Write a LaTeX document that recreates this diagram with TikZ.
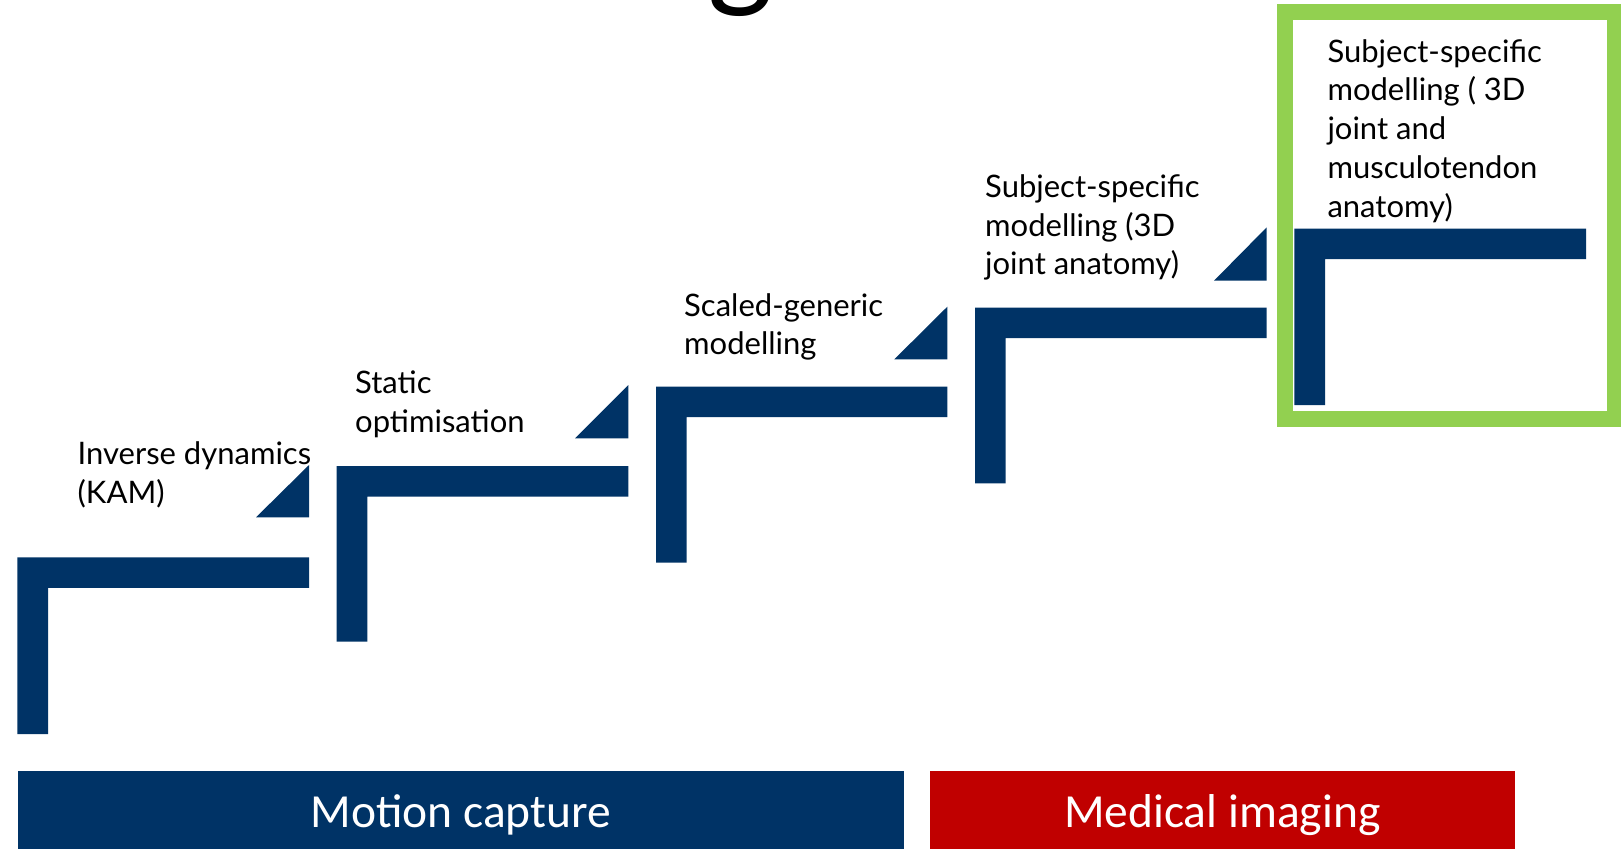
\documentclass[tikz,border=0pt]{standalone}
\usepackage{fontspec}
\setmainfont{Lato}
\newfontfamily\barfont{Carlito}
\definecolor{navy}{HTML}{003366}
\definecolor{framegreen}{HTML}{92D050}
\definecolor{imgred}{HTML}{C00000}
\tikzset{
  stepshape/.style={fill=navy, draw=none},
  stepmark/.style={fill=navy, draw=none},
  steplabel/.style={anchor=base west, inner sep=0pt, text=black},
  barlabel/.style={anchor=base, inner sep=0pt, text=white, font=\barfont\fontsize{47.5}{50}\selectfont},
}
\newcommand{\lbl}[1]{\parbox[t]{320pt}{\raggedright\fontsize{31}{38.8}\selectfont #1}}
\begin{document}
\begin{tikzpicture}[x=1pt,y=-1pt]
\useasboundingbox (0,0) rectangle (1621,849);
\clip (0,0) rectangle (1621,849);
\fill[white] (0,0) rectangle (1621,849);

% fragment of the title above
\node[anchor=base west, inner sep=0pt, font=\barfont\fontsize{140}{140}\selectfont] (titleg) at (707,-8) {g};

% green highlight frame
\draw[framegreen, line width=16pt] (1284.7,12) rectangle (1615.3,419.3);

% steps (L, T, R, B)
\fill[stepshape] (17.3,557.3) -- (309,557.3) -- (309,587.8) -- (48,587.8) -- (48,734) -- (17.3,734) -- cycle;
\fill[stepshape] (336.7,466) -- (628.3,466) -- (628.3,496.5) -- (367.4,496.5) -- (367.4,641.7) -- (336.7,641.7) -- cycle;
\fill[stepshape] (656,386.7) -- (947.3,386.7) -- (947.3,417.2) -- (686.7,417.2) -- (686.7,562.7) -- (656,562.7) -- cycle;
\fill[stepshape] (975,307.7) -- (1266.7,307.7) -- (1266.7,338.2) -- (1005.7,338.2) -- (1005.7,483.3) -- (975,483.3) -- cycle;
\fill[stepshape] (1294.3,228.7) -- (1586,228.7) -- (1586,259.2) -- (1325,259.2) -- (1325,405) -- (1294.3,405) -- cycle;

% triangles
\fill[stepmark] (256,517.3) -- (309,517.3) -- (309,465) -- cycle;
\fill[stepmark] (575,438.3) -- (628.3,438.3) -- (628.3,385) -- cycle;
\fill[stepmark] (894.3,359.3) -- (947.3,359.3) -- (947.3,306.7) -- cycle;
\fill[stepmark] (1214,280.7) -- (1266.7,280.7) -- (1266.7,227.3) -- cycle;

% labels
\node[steplabel] (s1) at (77.5,464.5) {\lbl{Inverse dynamics\\(KAM)}};
\node[steplabel] (s2) at (355,393.3) {\lbl{Static\\optimisation}};
\node[steplabel] (s3) at (684,316) {\lbl{Scaled-generic\\modelling}};
\node[steplabel] (s4) at (985,197.3) {\lbl{Subject-specific\\modelling (3D\\joint anatomy)}};
\node[steplabel] (s5) at (1327.3,62) {\lbl{Subject-specific\\modelling ( 3D\\joint and\\musculotendon\\anatomy)}};

% bottom bars
\fill[navy] (17.6,771.3) rectangle (904,849);
\fill[imgred] (929.7,771.3) rectangle (1515,849);
\node[barlabel] (mocap) at (460.8,827) {Motion capture};
\node[barlabel] (medimg) at (1222.3,827) {Medical imaging};
\end{tikzpicture}
\end{document}
